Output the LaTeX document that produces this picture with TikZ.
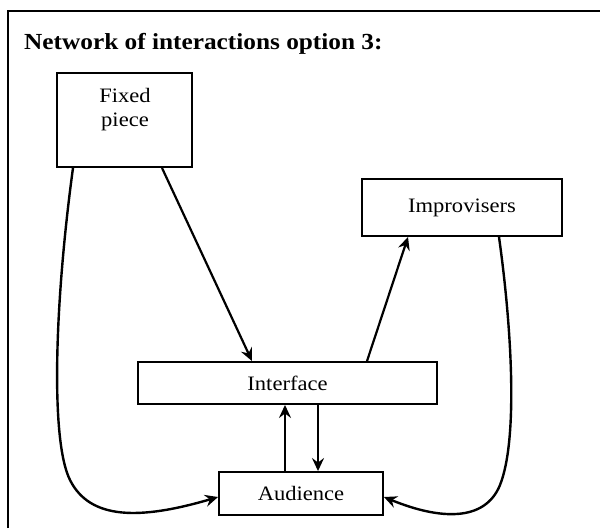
\documentclass[tikz,border=0pt]{standalone}
\usepackage{fontspec}
\setmainfont[FakeStretch=1.1]{Liberation Serif}
\usetikzlibrary{arrows.meta}
\begin{document}
\begin{tikzpicture}[x=1pt,y=-1pt,
  box/.style={draw,line width=1.9pt,rectangle,inner sep=0pt},
  lbl/.style={font=\fontsize{20.5}{24}\selectfont,align=center,inner sep=0pt},
  conn/.style={line width=2.2pt,-{Stealth[length=13pt,width=12pt,inset=4.5pt]}},
  curveconn/.style={conn,line width=2.4pt}]
\useasboundingbox (0,0) rectangle (600,528);
% frame
\draw[line width=2pt] (7.5,528) -- (7.5,10.5) -- (600,10.5);
% title
\node[anchor=base west,inner sep=0pt,font=\fontsize{23}{28}\selectfont\bfseries] (title) at (24,49) {Network of interactions option 3:};
% boxes
\node[box,minimum width=135pt,minimum height=94pt] (fixed) at (124.5,120) {};
\node[lbl] (fixedtxt) at (125,110) {Fixed\\piece};
\node[box,lbl,minimum width=200pt,minimum height=57pt] (improv) at (462,207.5) {Improvisers};
\node[box,lbl,minimum width=299pt,minimum height=42pt] (interface) at (287.5,383) {Interface};
\node[box,lbl,minimum width=164pt,minimum height=43pt] (audience) at (301,493.5) {Audience};
% straight connectors
\draw[conn] (162,0 |- fixed.south) -- (252,0 |- interface.north);
\draw[conn] (367,0 |- interface.north) -- (408,0 |- improv.south);
\draw[conn] (285,0 |- audience.north) -- (285,0 |- interface.south);
\draw[conn] (318,0 |- interface.south) -- (318,0 |- audience.north);
% curved connectors
\draw[curveconn] (73,0 |- fixed.south) .. controls (55,300) and (50,440) .. (70,480)
  .. controls (90,520) and (140,520) .. (audience.west |- 0,497);
\draw[curveconn] (499,0 |- improv.south) .. controls (512,330) and (518,440) .. (500,485)
  .. controls (485,522) and (440,520) .. (audience.east |- 0,497);
\end{tikzpicture}
\end{document}
